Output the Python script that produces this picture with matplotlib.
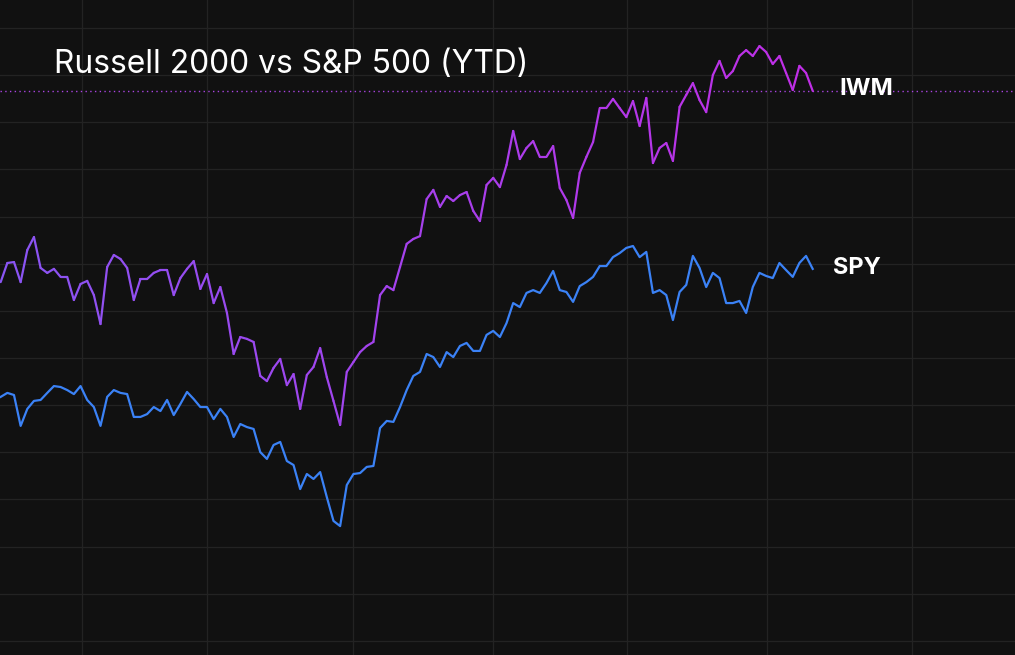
import numpy as np
import matplotlib
matplotlib.use("Agg")
import matplotlib.pyplot as plt
from matplotlib.collections import LineCollection
from matplotlib.colors import to_rgb

# ---- data (YTD % change) ----
title = "Russell 2000 vs S&P 500 (YTD)"
labels = ["IWM", "SPY"]

iwm_px = [282, 263, 262, 282, 250, 237, 268, 273, 269, 277, 277, 300, 284, 281, 295, 324,
          267, 255, 259, 268, 300, 279, 279, 273, 270, 270, 295, 278, 269, 261, 289, 274,
          303, 287, 313, 354, 337, 339, 342, 376, 381, 368, 359, 385, 374, 409, 375, 367,
          348, 377, 401, 425, 372, 362, 352, 346, 342, 295, 286, 290, 267, 244, 239, 236,
          199, 190, 207, 196, 201, 195, 192, 211, 221, 185, 178, 187, 165, 131, 159, 148,
          141, 157, 157, 146, 188, 200, 218, 173, 157, 142, 108, 108, 99, 108, 117, 101,
          126, 98, 163, 148, 143, 161, 107, 95, 83, 100, 112, 75, 61, 78, 71, 56,
          50, 56, 46, 52, 64, 56, 73, 90, 66, 73, 91]
spy_px = [397, 393, 395, 426, 409, 401, 400, 393, 386, 387, 390, 394, 386, 400, 407, 426,
          397, 390, 393, 394, 417, 417, 414, 407, 411, 400, 415, 404, 392, 399, 407, 407,
          419, 409, 417, 437, 424, 427, 429, 452, 459, 445, 442, 461, 465, 489, 474, 479,
          472, 497, 521, 526, 485, 474, 473, 467, 466, 428, 421, 422, 407, 390, 376, 372,
          354, 357, 367, 352, 357, 346, 343, 351, 351, 335, 331, 337, 323, 303, 307, 293,
          290, 293, 283, 271, 290, 292, 302, 286, 282, 277, 266, 266, 257, 253, 248, 246,
          257, 252, 293, 290, 295, 320, 292, 285, 256, 268, 287, 273, 278, 303, 303, 301,
          313, 287, 273, 276, 278, 263, 270, 277, 263, 256, 269]

# convert readings to % values (gridline spacing 47.15 px = 2 %)
iwm = [round((358 - p) / 47.15 * 2, 2) for p in iwm_px]
spy = [round((358 - p) / 47.15 * 2, 2) for p in spy_px]

month_starts = [12.17, 31.05, 52.98, 74.0, 94.05, 115.1, 136.96]

# ---- figure ----
W, H = 1015, 655
fig = plt.figure(figsize=(W / 100, H / 100), dpi=100)
fig.patch.set_facecolor("#111111")
ax = fig.add_axes([0, 0, 1, 1])
ax.set_facecolor("#111111")

step = 6.656
x0 = 0.67
ax.set_xlim(-x0 / step, (W - x0) / step)
ax.set_ylim((358 - H) / 47.15 * 2, 358 / 47.15 * 2)

for s in ax.spines.values():
    s.set_visible(False)
ax.set_xticks([])
ax.set_yticks([])

grid_c = "#232323"
for m in month_starts:
    ax.axvline(m, color=grid_c, lw=0.9, zorder=0)
for g in np.arange(-12, 15, 2):
    ax.axhline(g, color=grid_c, lw=0.9, zorder=0)

x = np.arange(len(iwm))

# IWM gradient line (violet -> fuchsia)
pts = np.column_stack([x, iwm]).reshape(-1, 1, 2)
segs = np.concatenate([pts[:-1], pts[1:]], axis=1)
c0 = np.array(to_rgb("#8a55f3"))
c1 = np.array(to_rgb("#c02ee6"))
t = np.linspace(0, 1, len(segs))
cols = [tuple(c0 + (c1 - c0) * ti) for ti in t]
lc = LineCollection(segs, colors=cols, linewidths=1.6, capstyle="round", joinstyle="round", zorder=3)
ax.add_collection(lc)

# SPY line
ax.plot(x, spy, color="#3b82f6", lw=1.6, solid_joinstyle="round", zorder=3)

# dotted reference line at last IWM value
ax.axhline(iwm[-1], color="#a944e0", lw=1.0, linestyle=(0, (1.0, 2.4)), zorder=2)

# labels
font = ["Inter", "DejaVu Sans"]
fig.text(54 / W, 1 - 73 / H, title, color="white", fontsize=22.9, family=font,
         ha="left", va="baseline")
ax.text((839 - x0) / step, iwm[-1] + (90 - 88) / 47.15 * 2, labels[0], color="white",
        fontsize=17.2, fontweight="bold", family=font, ha="left", va="center")
ax.text((833 - x0) / step, spy[-1] + (269 - 268) / 47.15 * 2, labels[1], color="white",
        fontsize=17, fontweight="bold", family=font, ha="left", va="center")

fig.savefig("out.png", dpi=100, facecolor=fig.get_facecolor())
